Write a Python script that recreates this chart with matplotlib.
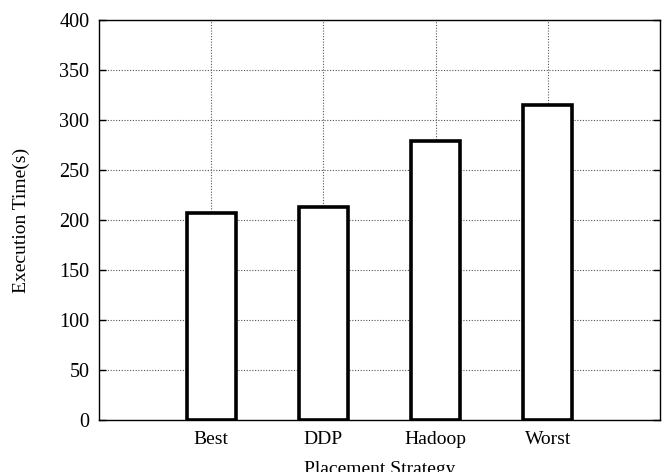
import matplotlib
matplotlib.use("Agg")
import matplotlib.pyplot as plt
import numpy as np

strategies = ["Best", "DDP", "Hadoop", "Worst"]
exec_time = [207, 213, 279, 315]
y_ticks = [0, 50, 100, 150, 200, 250, 300, 350, 400]

plt.rcParams["font.family"] = ["Liberation Serif", "DejaVu Serif"]

fig = plt.figure(figsize=(6.66, 4.72), dpi=100)
ax = fig.add_axes([99 / 666, 1 - 420 / 472, (660 - 99) / 666, 400 / 472])

x = np.arange(len(strategies))
ax.bar(x, exec_time, width=0.44, color="white", edgecolor="black",
       linewidth=2.6, zorder=3)

ax.set_xlim(-1, len(strategies))
ax.set_ylim(0, 400)
ax.set_xticks(x)
ax.set_xticklabels(strategies)
ax.set_yticks(y_ticks)

ax.grid(True, color="#555555", linestyle=(0, (1, 1.5)), linewidth=0.8, zorder=0)
ax.set_axisbelow(True)

ax.tick_params(axis="y", direction="in", right=True, left=True, length=5,
               width=1, labelsize=14.5, pad=7)
ax.tick_params(axis="x", direction="in", top=False, bottom=False, length=0,
               labelsize=14, pad=8)
for s in ax.spines.values():
    s.set_linewidth(1.0)

ax.set_ylabel("Execution Time(s)", fontsize=14, labelpad=21)
ax.set_xlabel("Placement Strategy", fontsize=14, labelpad=9)

fig.savefig("out.png", dpi=100)
